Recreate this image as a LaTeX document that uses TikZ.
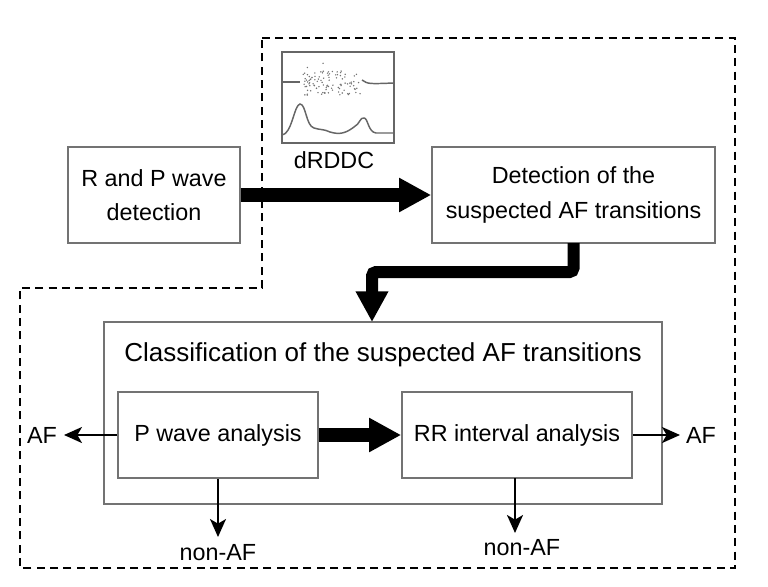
\documentclass[tikz,border=0pt]{standalone}
\usepackage{fontspec}
\setmainfont{Liberation Sans}
\usetikzlibrary{arrows.meta}
\begin{document}
\begin{tikzpicture}[x=0.75pt,y=-0.75pt,
  box/.style={draw=black!55,line width=1.2pt,fill=white},
  lbl/.style={font=\fontsize{17.5}{26}\selectfont,align=center,inner sep=0pt},
  bigarrow/.style={line width=10pt,-{Triangle[length=24pt,width=24pt]}},
  thin/.style={line width=1.5pt,-{Stealth[length=13.5pt,width=12pt,inset=3.5pt]}}]
\useasboundingbox (0,0) rectangle (768,586);
% dashed outline
\draw[line width=1.6pt,dash pattern=on 6pt off 4pt]
  (262,38) -- (735,38) -- (735,568) -- (20,568) -- (20,288) -- (262,288) -- cycle;
% top boxes
\node[box,minimum width=172*0.75pt,minimum height=96*0.75pt] (rp) at (154,195) {};
\node[lbl] at (rp) {R and P wave\\detection};
\node[box,minimum width=283*0.75pt,minimum height=96*0.75pt] (det) at (573.5,195) {};
\node[lbl] at (det) {Detection of the\\suspected AF transitions};
% dRDDC image
\node[draw=black!60,line width=1.2pt,minimum width=112*0.75pt,minimum height=91*0.75pt,inner sep=0pt] (img) at (338,97.5) {};
\begin{scope}[black!60,line width=1.1pt]
  \draw (282,82) -- (300,82);
  \draw (362,80) .. controls (368,84) .. (394,83);
  \draw (282,135) .. controls (292,134) and (294,105) .. (300,104)
     .. controls (306,104) and (306,126) .. (314,128)
     .. controls (320,130) and (324,129) .. (330,132)
     .. controls (340,135) and (346,133) .. (354,127)
     .. controls (360,124) and (360,117) .. (364,118)
     .. controls (368,118) and (368,132) .. (376,133) -- (394,133);
\end{scope}
\pgfmathsetseed{7}
\foreach \i in {1,...,90}{
  \pgfmathsetmacro{\px}{303+58*rnd}
  \pgfmathsetmacro{\py}{83+12*rand}
  \fill[black!55] (\px,\py) circle (0.6pt);
}
\foreach \i in {1,...,12}{
  \pgfmathsetmacro{\px}{303+58*rnd}
  \pgfmathsetmacro{\py}{60+30*rnd}
  \fill[black!55] (\px,\py) circle (0.6pt);
}
\node[lbl] (dlab) at (334,160) {dRDDC};
% arrow top
\draw[bigarrow] (rp.east) -- (det.west);
% classification box
\node[box,minimum width=558*0.75pt,minimum height=182*0.75pt] (cls) at (383,413) {};
\node[lbl,font=\fontsize{19.5}{24}\selectfont] (clst) at (383,355) {Classification of the suspected AF transitions};
\node[box,minimum width=200*0.75pt,minimum height=86*0.75pt] (pw) at (218,435) {};
\node[lbl] at (pw) {P wave analysis};
\node[box,minimum width=230*0.75pt,minimum height=86*0.75pt] (rr) at (517,435) {};
\node[lbl] at (rr) {RR interval analysis};
% elbow arrow
\coordinate (e1) at (573.5,243);
\coordinate (e2) at (573.5,272);
\coordinate (e3) at (372,272);
\coordinate (e4) at (372,322);
\draw[line width=9pt,rounded corners=3pt,-{Triangle[length=23pt,width=23pt]}]
  (e1) -- (e2) -- (e3) -- (e4);
% middle arrow
\draw[bigarrow] (pw.east) -- (rr.west);
% outputs
\node[lbl] (afl) at (42,435) {AF};
\node[lbl] (afr) at (701,435) {AF};
\node[lbl] (nal) at (218,553) {non-AF};
\node[lbl] (nar) at (522,548) {non-AF};
\coordinate (al) at (64,435);
\coordinate (ar) at (680,435);
\coordinate (dl) at (218,537);
\coordinate (dr) at (515,533);
\draw[thin] (pw.west) -- (al);
\draw[thin] (rr.east) -- (ar);
\draw[thin] (pw.south) -- (dl);
\draw[thin] (515,478) -- (dr);
\end{tikzpicture}
\end{document}
